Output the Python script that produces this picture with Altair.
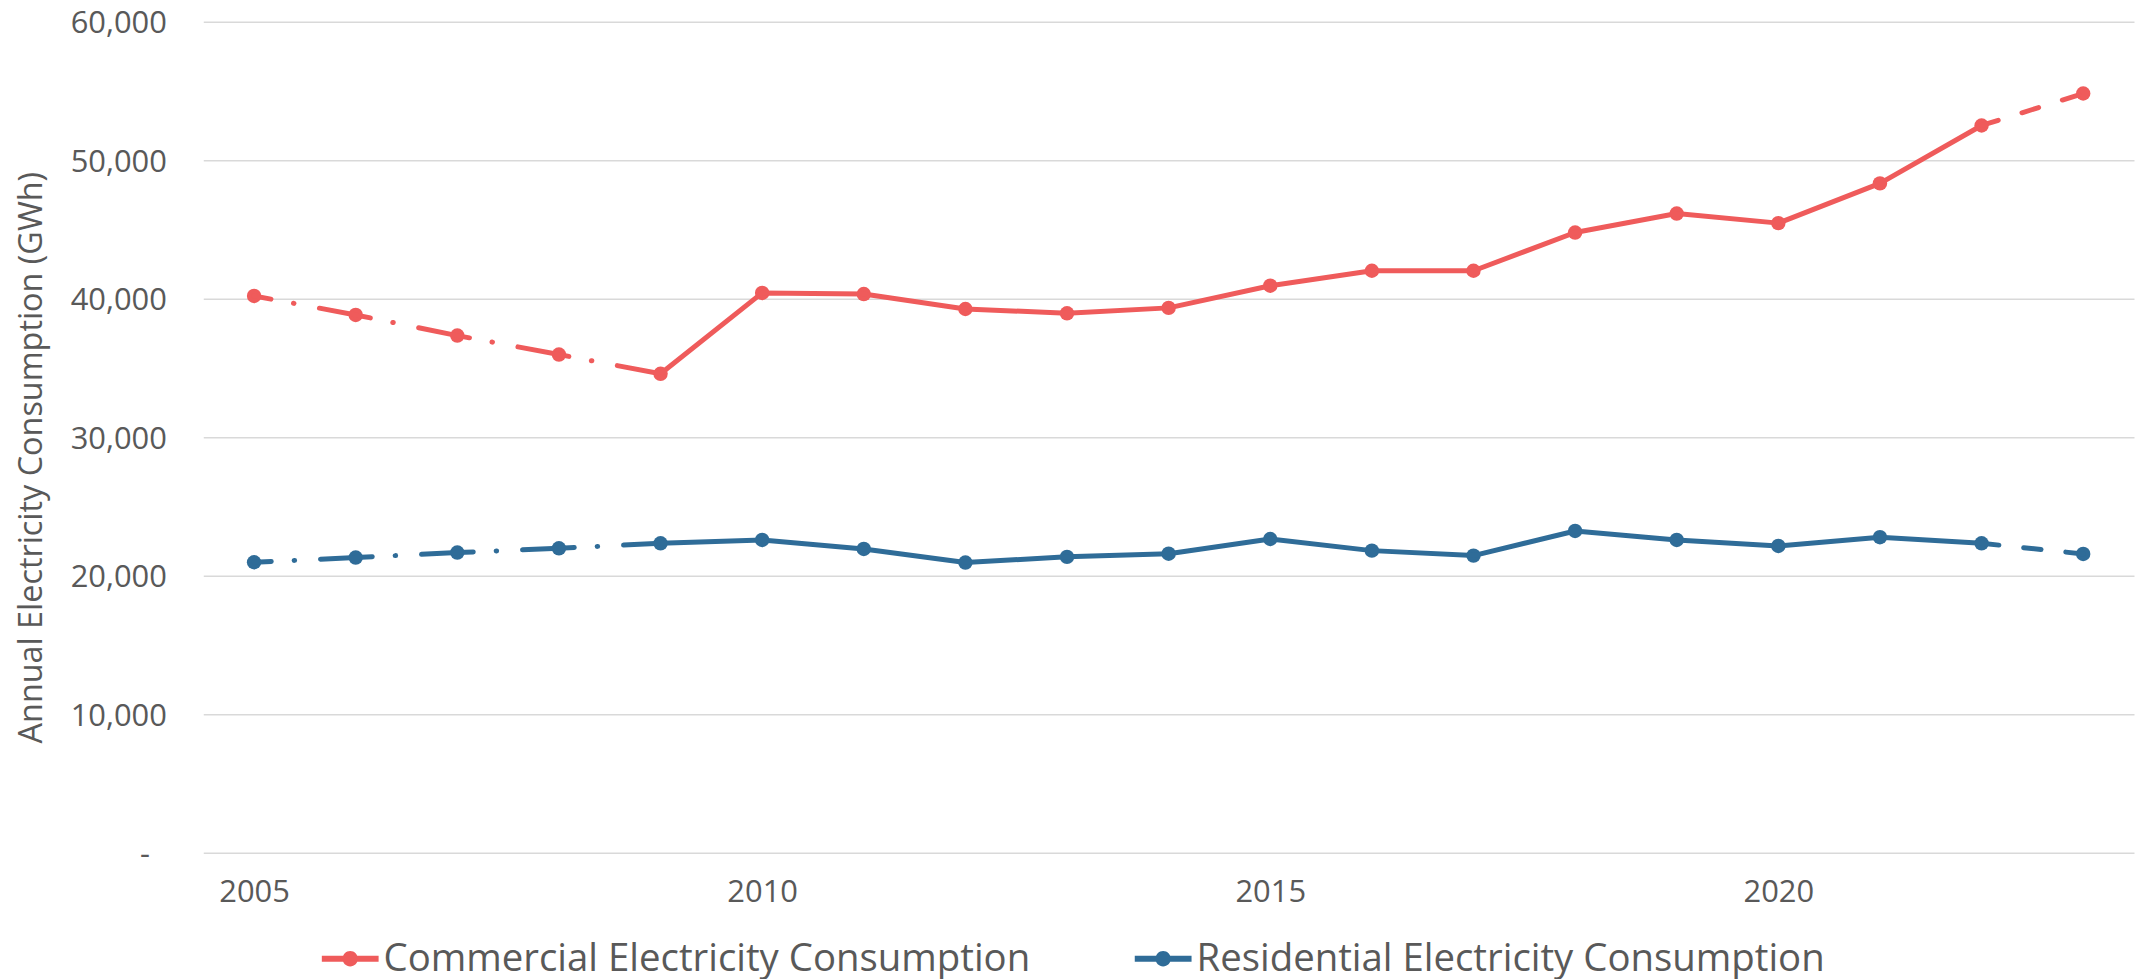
import altair as alt
import pandas as pd

years = list(range(2005, 2024))
commercial = [40200, 38830, 37340, 35970, 34580, 40420, 40340, 39260, 38950, 39340,
              40940, 42020, 42020, 44780, 46150, 45460, 48330, 52510, 54820]
residential = [20970, 21310, 21670, 21980, 22340, 22580, 21930, 20950, 21360, 21590,
               22650, 21810, 21450, 23230, 22580, 22150, 22780, 22340, 21570]
series_names = ["Commercial Electricity Consumption", "Residential Electricity Consumption"]
series_colors = ["#EF5B5B", "#2F6C98"]
y_ticks = [0, 10000, 20000, 30000, 40000, 50000, 60000]
x_ticks = [2005, 2010, 2015, 2020]
y_title = "Annual Electricity Consumption (GWh)"

rows = []
for name, vals in zip(series_names, [commercial, residential]):
    for yr, v in zip(years, vals):
        rows.append({"series": name, "year": yr, "value": v})
df = pd.DataFrame(rows)

FONT = "Open Sans"
TXT = "#595959"
legend_symbol = ("M-1,-0.11H-0.24V0.11H-1Z M0.24,-0.11H1V0.11H0.24Z "
                 "M-0.27,0A0.27,0.27 0 1,1 0.27,0A0.27,0.27 0 1,1 -0.27,0Z")

base = alt.Chart(df).encode(
    x=alt.X("year:Q",
            scale=alt.Scale(domain=[2004.5, 2023.5], nice=False, zero=False),
            axis=alt.Axis(values=x_ticks, format="d", title=None, grid=False,
                          ticks=False, domain=False, labelFont=FONT,
                          labelFontSize=31, labelColor=TXT, labelBaseline="middle",
                          labelPadding=40)),
    y=alt.Y("value:Q",
            scale=alt.Scale(domain=[0, 60000], nice=False),
            axis=alt.Axis(values=y_ticks,
                          labelExpr="datum.value == 0 ? '-' : format(datum.value, ',')",
                          title=y_title, titleFont=FONT, titleFontSize=32.5,
                          titleFontWeight="normal", titleColor=TXT, titleAngle=-90,
                          titleX=-162, titleY=437, titleAlign="center",
                          titleBaseline="alphabetic",
                          grid=True, gridColor="#D9D9D9", gridWidth=1.5,
                          ticks=False, tickSize=0, domain=False, labelFont=FONT,
                          labelFontSize=31, labelColor=TXT,
                          labelPadding={"condition": {"test": "datum.value == 0", "value": 54},
                                        "value": 37},
                          labelOffset=2)),
    color=alt.Color("series:N",
                    scale=alt.Scale(domain=series_names, range=series_colors),
                    legend=alt.Legend(title=None, orient="none", direction="horizontal",
                                      legendX=119, legendY=912, padding=0,
                                      symbolType=legend_symbol, symbolSize=3249,
                                      symbolStrokeWidth=0, symbolOpacity=1,
                                      labelFont=FONT, labelFontSize=38.5, labelColor=TXT,
                                      labelLimit=0, labelOffset=5, columnPadding=104)),
)

points = base.mark_circle(size=210, opacity=1)
early = base.transform_filter("datum.year <= 2009").mark_line(
    strokeWidth=5, strokeDash=[52, 23, 0.5, 26], strokeDashOffset=34.75,
    strokeCap="round")
mid = base.transform_filter("datum.year >= 2009 && datum.year <= 2022").mark_line(
    strokeWidth=5, strokeJoin="round")
late = base.transform_filter("datum.year >= 2022").mark_line(
    strokeWidth=5, strokeDash=[17.5, 25], strokeCap="round")

chart = alt.layer(points, early, mid, late).properties(
    width=1938, height=834,
    autosize=alt.AutoSizeParams(type="none"),
    padding={"left": 196, "top": 12, "right": 1, "bottom": 125},
    background="white",
).configure_view(stroke=None)

chart.save("out.html", embed_options={"renderer": "svg", "actions": False})
